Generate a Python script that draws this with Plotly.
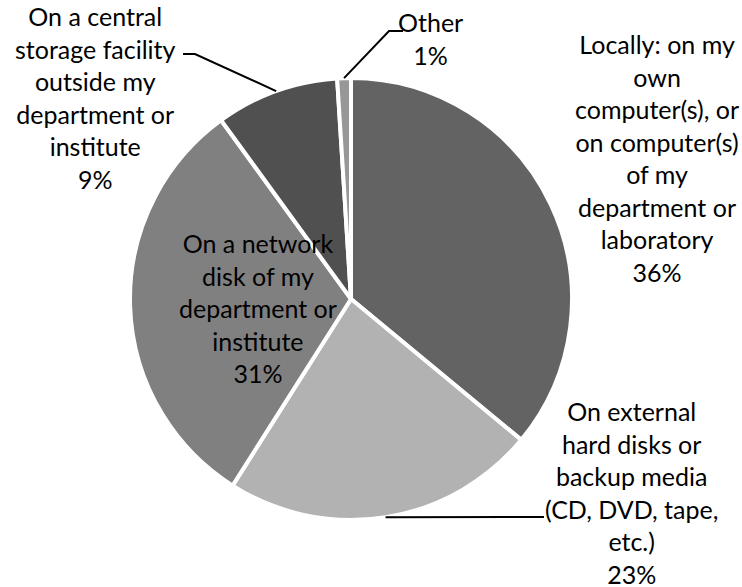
import math
import plotly.graph_objects as go

# ---- data ----
labels = [
    "Locally: on my<br>own<br>computer(s), or<br>on computer(s)<br>of my<br>department or<br>laboratory",
    "On external<br>hard disks or<br>backup media<br>(CD, DVD, tape,<br>etc.)",
    "On a network<br>disk of my<br>department or<br>institute",
    "On a central<br>storage facility<br>outside my<br>department or<br>institute",
    "Other",
]
values = [36, 23, 31, 9, 1]
colors = ["#636363", "#b2b2b2", "#808080", "#505050", "#979797"]

W, H = 742, 587
CX, CY, R = 351, 299, 221
FONT = dict(family="Lato, Carlito, Calibri, sans-serif", size=25, color="#000000")


def px(x, y):
    return x / W, 1 - y / H


fig = go.Figure()
fig.add_trace(go.Pie(
    labels=[l.replace("<br>", " ") for l in labels],
    values=values,
    sort=False,
    direction="clockwise",
    rotation=0,
    marker=dict(colors=colors, line=dict(color="#ffffff", width=4)),
    textinfo="none",
    hoverinfo="label+percent",
    showlegend=False,
    domain=dict(x=[(CX - R) / W, (CX + R) / W], y=[1 - (CY + R) / H, 1 - (CY - R) / H]),
))

total = sum(values)
cum = 0
mids = []
for v in values:
    mids.append((cum + v / 2) / total * 2 * math.pi)
    cum += v


def rim(i):
    a = mids[i]
    return CX + R * math.sin(a), CY - R * math.cos(a)


# label centres (pixel positions)
label_pos = [(657, 158), (631, 492), (258, 308), (95, 97), (430, 39)]
for i, (lx, ly) in enumerate(label_pos):
    pct = round(values[i] / total * 100)
    x, y = px(lx, ly)
    fig.add_annotation(x=x, y=y, xref="paper", yref="paper", text=f"{labels[i]}<br>{pct}%",
                       showarrow=False, xanchor="center", yanchor="middle", font=FONT, align="center")

# leader lines: (start point at text, elbow point) then to slice rim
leaders = {4: [(403, 31), (389, 31)], 3: [(183, 54), (195, 54)], 1: [(544, 517), (532, 517)]}
for i, pts in leaders.items():
    ex, ey = rim(i)
    path_pts = pts + [(ex, ey)]
    path = "M " + " L ".join(f"{px(a, b)[0]:.5f},{px(a, b)[1]:.5f}" for a, b in path_pts)
    fig.add_shape(type="path", path=path, xref="paper", yref="paper",
                  line=dict(color="#000000", width=2))

fig.update_layout(
    width=W, height=H,
    margin=dict(l=0, r=0, t=0, b=0),
    paper_bgcolor="#ffffff", plot_bgcolor="#ffffff",
)
fig.write_html("out.html", config={"displayModeBar": False},
               post_script="document.body.style.margin='0';document.body.style.overflow='hidden';")
